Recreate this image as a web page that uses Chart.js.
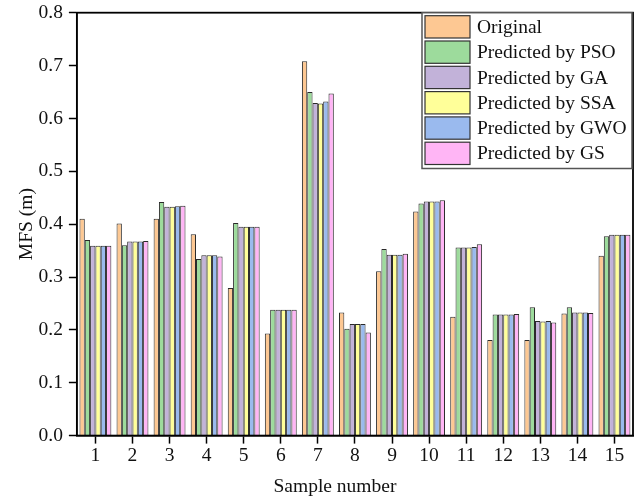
<!DOCTYPE html>
<html>
<head>
<meta charset="utf-8">
<script src="https://cdn.jsdelivr.net/npm/chart.js@4.4.0/dist/chart.umd.min.js"></script>
<style>
  html, body { margin: 0; padding: 0; background: #fff; }
  #wrap { width: 644px; height: 500px; }
</style>
</head>
<body>
<div id="wrap"><canvas id="mfsChart" width="644" height="500"></canvas></div>
<script>
// Sample numbers on the x axis
var samples = ['1', '2', '3', '4', '5', '6', '7', '8', '9', '10', '11', '12', '13', '14', '15'];

// MFS values (m) for each sample
var original = [0.410, 0.401, 0.410, 0.381, 0.279, 0.193, 0.708, 0.233, 0.311, 0.424, 0.225, 0.181, 0.181, 0.231, 0.340];
var predPSO  = [0.370, 0.360, 0.442, 0.334, 0.402, 0.238, 0.650, 0.202, 0.353, 0.439, 0.356, 0.229, 0.243, 0.243, 0.377];
var predGA   = [0.359, 0.367, 0.433, 0.341, 0.395, 0.238, 0.629, 0.211, 0.342, 0.443, 0.356, 0.229, 0.217, 0.233, 0.380];
var predSSA  = [0.359, 0.367, 0.433, 0.341, 0.395, 0.238, 0.628, 0.211, 0.342, 0.443, 0.356, 0.229, 0.216, 0.233, 0.380];
var predGWO  = [0.359, 0.367, 0.434, 0.341, 0.395, 0.238, 0.632, 0.211, 0.342, 0.443, 0.357, 0.229, 0.217, 0.233, 0.380];
var predGS   = [0.359, 0.368, 0.435, 0.339, 0.395, 0.238, 0.647, 0.195, 0.344, 0.445, 0.362, 0.230, 0.214, 0.232, 0.380];

var seriesLabels = ['Original', 'Predicted by PSO', 'Predicted by GA', 'Predicted by SSA', 'Predicted by GWO', 'Predicted by GS'];
var seriesColors = ['#fdc893', '#9ddb9c', '#c2b2d9', '#ffff99', '#9abaee', '#ffb5f5'];
var seriesData = [original, predPSO, predGA, predSSA, predGWO, predGS];

var xTitle = 'Sample number';
var yTitle = 'MFS (m)';

var serif = "'Liberation Serif', 'Times New Roman', serif";

var datasets = seriesData.map(function (values, i) {
    return {
        label: seriesLabels[i],
        data: values,
        backgroundColor: seriesColors[i],
        borderColor: '#2a2a2a',
        borderWidth: 1,
        borderSkipped: 'bottom',
        barPercentage: 1.0,
        categoryPercentage: 0.86
    };
});

// frame around the plot area, x title, and boxed legend in the top right corner
var framePlugin = {
    id: 'frameAndLegend',
    afterDraw: function (chart) {
        var c = chart.ctx;
        var a = chart.chartArea;
        c.save();
        c.strokeStyle = '#000';
        c.lineWidth = 1.8;
        c.strokeRect(a.left, a.top, a.right - a.left, a.bottom - a.top);

        // x axis title (sits a bit left of the plot centre in the original)
        c.fillStyle = '#111';
        c.font = '19.5px ' + serif;
        c.textAlign = 'center';
        c.textBaseline = 'middle';
        c.fillText(xTitle, (a.left + a.right) / 2 - 20, 487);

        // legend
        var rowH = 25.3;
        var boxW = 210, boxH = rowH * seriesLabels.length + 4;
        var bx = a.right - boxW - 1, by = a.top;
        c.fillStyle = '#fff';
        c.fillRect(bx, by, boxW, boxH);
        c.strokeStyle = '#555';
        c.lineWidth = 1.5;
        c.strokeRect(bx, by, boxW, boxH);
        c.textAlign = 'left';
        chart.data.datasets.forEach(function (ds, i) {
            var y = by + 3 + i * rowH;
            c.fillStyle = ds.backgroundColor;
            c.fillRect(bx + 3, y, 45, rowH - 3);
            c.strokeStyle = '#333';
            c.lineWidth = 1.2;
            c.strokeRect(bx + 3, y, 45, rowH - 3);
            c.fillStyle = '#111';
            c.fillText(ds.label, bx + 55, y + (rowH - 3) / 2 + 1);
        });
        c.restore();
    }
};

var ctx = document.getElementById('mfsChart').getContext('2d');

var mfsChart = new Chart(ctx, {
    type: 'bar',
    data: {
        labels: samples,
        datasets: datasets
    },
    options: {
        responsive: false,
        animation: false,
        layout: {
            padding: { top: 0, right: 11, left: 17, bottom: 31 }
        },
        plugins: {
            legend: { display: false },
            tooltip: { enabled: false }
        },
        scales: {
            x: {
                grid: {
                    drawOnChartArea: false,
                    offset: false,
                    tickLength: 8,
                    tickWidth: 1.5,
                    tickColor: '#000'
                },
                border: { color: '#000', width: 1.5 },
                ticks: {
                    color: '#111',
                    font: { family: serif, size: 19.5 },
                    padding: 1,
                    maxRotation: 0
                }
            },
            y: {
                min: 0,
                max: 0.8,
                afterFit: function (scale) {
                    scale.paddingTop = 12.7;
                    scale.width -= 5;
                },
                grid: {
                    drawOnChartArea: false,
                    tickLength: 8,
                    tickWidth: 1.5,
                    tickColor: '#000'
                },
                border: { color: '#000', width: 1.5 },
                ticks: {
                    stepSize: 0.1,
                    color: '#111',
                    font: { family: serif, size: 19.5 },
                    padding: 6,
                    callback: function (value) {
                        return value.toFixed(1);
                    }
                },
                title: {
                    display: true,
                    text: yTitle,
                    color: '#111',
                    font: { family: serif, size: 19.5, lineHeight: 1 },
                    padding: { top: 0, bottom: 1 }
                }
            }
        }
    },
    plugins: [framePlugin]
});
</script>
</body>
</html>
